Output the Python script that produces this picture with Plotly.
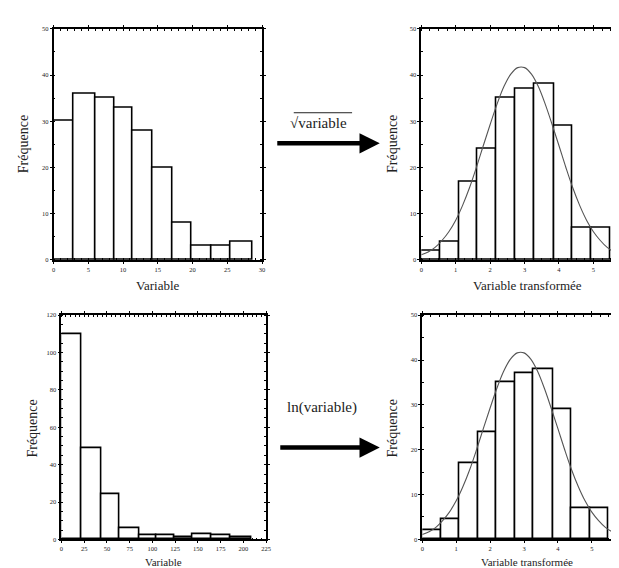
import plotly.graph_objects as go

# ---------------- data ----------------
tl_edges = [0, 2.94, 6.03, 8.73, 11.4, 14.3, 17.1, 19.9, 22.7, 25.5, 28.6]
tl_counts = [30, 36, 35, 33, 28, 20, 8, 3, 3, 4]

tr_edges = [0, 0.56, 1.09, 1.64, 2.18, 2.73, 3.28, 3.85, 4.39, 4.94, 5.48]
tr_counts = [2, 4, 17, 24, 35, 37, 38, 29, 7, 7]

bl_edges = [0, 21.5, 43.5, 64.3, 85.9, 104.7, 124.5, 144.4, 165.3, 185.9, 208.7]
bl_counts = [110, 49, 24, 6, 2, 2, 1, 3, 2, 1]

br_edges = [0, 0.56, 1.09, 1.64, 2.18, 2.73, 3.28, 3.85, 4.39, 4.94, 5.48]
br_counts = [2, 4.4, 17, 24, 35, 37, 38, 29, 7, 7]

curve_x = [0, 0.2, 0.4, 0.6, 0.8, 1.0, 1.2, 1.4, 1.6, 1.8, 2.0, 2.2, 2.4, 2.6, 2.8,
           3.0, 3.2, 3.4, 3.6, 3.8, 4.0, 4.2, 4.4, 4.6, 4.8, 5.0, 5.2, 5.4, 5.6, 5.8, 6.0]
curve_y = [1.1, 1.7, 2.7, 4.2, 6.1, 8.6, 11.8, 15.6, 20.0, 24.7, 29.3, 33.7, 37.5, 40.2, 41.6,
           41.6, 40.2, 37.5, 33.7, 29.3, 24.7, 20.0, 15.6, 11.8, 8.6, 6.1, 4.2, 2.7, 1.7, 1.1, 0.6]

x_title_orig = "Variable"
x_title_trans = "Variable transformée"
y_title = "Fréquence"
label_sqrt = "√variable"
label_ln = "ln(variable)"

SERIF = "Liberation Serif, Times New Roman, serif"
W, H = 619, 568


def px_x(p):
    return p / W


def px_y(p):
    return 1 - p / H


fig = go.Figure()


def add_hist(edges, counts, xa, ya):
    centers = [(edges[i] + edges[i + 1]) / 2 for i in range(len(counts))]
    widths = [edges[i + 1] - edges[i] for i in range(len(counts))]
    fig.add_trace(go.Bar(x=centers, y=counts, width=widths,
                         marker=dict(color="white", line=dict(color="black", width=1.6)),
                         xaxis=xa, yaxis=ya, showlegend=False, hoverinfo="skip"))


add_hist(tl_edges, tl_counts, "x", "y")
add_hist(tr_edges, tr_counts, "x2", "y2")
add_hist(bl_edges, bl_counts, "x3", "y3")
add_hist(br_edges, br_counts, "x4", "y4")

for xa, ya in [("x2", "y2"), ("x4", "y4")]:
    fig.add_trace(go.Scatter(x=curve_x, y=curve_y, mode="lines", line=dict(color="#555", width=1.1, shape="spline"),
                             xaxis=xa, yaxis=ya, showlegend=False, hoverinfo="skip", cliponaxis=True))

tickfont = dict(family=SERIF, size=6.5, color="#222")


def axis(domain, rng, dtick, minor, mirror, anchor):
    return dict(domain=domain, range=rng, dtick=dtick, tick0=0, showline=True, linecolor="black",
                linewidth=1.6, mirror=mirror, ticks="outside", ticklen=2, tickwidth=1,
                tickcolor="black", showgrid=False, zeroline=False, tickfont=tickfont,
                anchor=anchor, fixedrange=True,
                minor=dict(dtick=minor, ticks="inside", ticklen=2, tickcolor="black", showgrid=False))


fig.update_layout(
    width=W, height=H, margin=dict(l=0, r=0, t=0, b=0),
    paper_bgcolor="white", plot_bgcolor="white", bargap=0,
    xaxis=axis([px_x(44), px_x(255)], [0, 30], 5, 1, "ticks", "y"),
    yaxis=axis([px_y(251), px_y(17)], [0, 50], 10, 5, "ticks", "x"),
    xaxis2=axis([px_x(416), 1.0], [0, 5.83], 1, 0.25, "ticks", "y2"),
    yaxis2=axis([px_y(251), px_y(17)], [0, 50], 10, 5, False, "x2"),
    xaxis3=axis([px_x(52), px_x(259)], [0, 225], 25, 5, "ticks", "y3"),
    yaxis3=axis([px_y(534), px_y(307)], [0, 120], 20, 5, "ticks", "x3"),
    xaxis4=axis([px_x(417), 1.0], [0, 5.89], 1, 0.25, "ticks", "y4"),
    yaxis4=axis([px_y(534), px_y(307)], [0, 50], 10, 5, False, "x4"),
)

xtitlefont = dict(family=SERIF, size=13, color="#222")
xtitlefont_b = dict(family=SERIF, size=11, color="#222")
ytitlefont = dict(family=SERIF, size=14, color="#222")
ann = []
# x titles
for x, y, t, f in [(150, 277, x_title_orig, xtitlefont), (523, 277, x_title_trans, xtitlefont),
                   (155, 557, x_title_orig, xtitlefont_b), (523, 557, x_title_trans, xtitlefont_b)]:
    ann.append(dict(x=px_x(x), y=px_y(y), xref="paper", yref="paper", text=t, showarrow=False,
                    font=f, xanchor="center", yanchor="middle"))
# y titles
for x, y in [(13, 134), (387, 134), (23, 422), (387, 422)]:
    ann.append(dict(x=px_x(x), y=px_y(y), xref="paper", yref="paper", text=y_title, showarrow=False,
                    font=ytitlefont, textangle=-90, xanchor="center", yanchor="middle"))
# arrows
for (x0, x1, y) in [(270, 374, 133), (273, 374, 441)]:
    ann.append(dict(x=px_x(x1), y=px_y(y), xref="paper", yref="paper", ax=-(x1 - x0), ay=0,
                    axref="pixel", ayref="pixel", showarrow=True, arrowhead=2, arrowsize=0.9,
                    arrowwidth=4.5, arrowcolor="black", text=""))
ann.append(dict(x=px_x(312), y=px_y(112), xref="paper", yref="paper", text=label_sqrt, showarrow=False,
                font=dict(family=SERIF, size=15, color="#222"), xanchor="center", yanchor="middle"))
ann.append(dict(x=px_x(316), y=px_y(400), xref="paper", yref="paper", text=label_ln, showarrow=False,
                font=dict(family=SERIF, size=15, color="#222"), xanchor="center", yanchor="middle"))
fig.update_layout(annotations=ann)

# overline of the square root sign
fig.add_shape(type="line", xref="paper", yref="paper", x0=px_x(287), x1=px_x(346), y0=px_y(102), y1=px_y(102),
              line=dict(color="#222", width=1))

fig.write_html("out.html")
